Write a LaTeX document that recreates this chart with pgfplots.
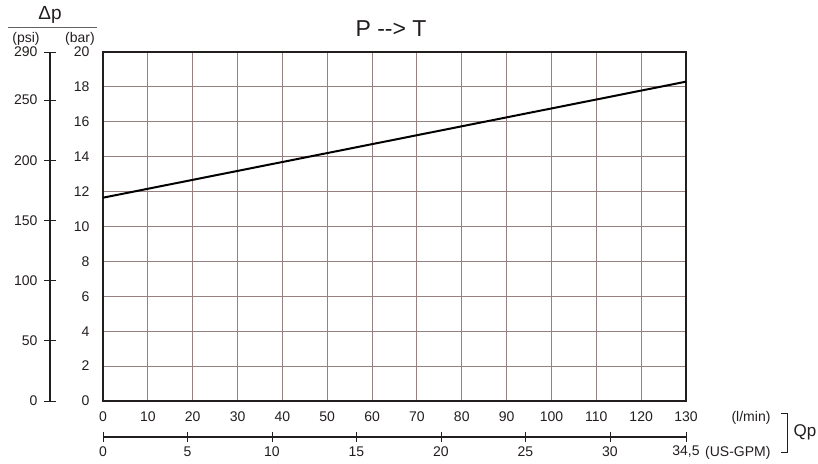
\documentclass[border=0pt]{standalone}
\usepackage{fontspec}
\setmainfont{Liberation Sans}
\usepackage{pgfplots}
\pgfplotsset{compat=1.18}
\definecolor{gridc}{RGB}{150,128,128}
\definecolor{axc}{RGB}{35,30,30}
\begin{document}
\begin{tikzpicture}
\path[use as bounding box] (-103pt,-62pt) rectangle (715pt,401pt);

% main chart, bar over l/min
\begin{axis}[
    at={(0pt,0pt)}, anchor=south west,
    scale only axis, width=583pt, height=349pt,
    xmin=0, xmax=130, ymin=0, ymax=20,
    xtick={0,10,...,130}, ytick={0,2,...,20},
    grid=major,
    major grid style={gridc, line width=1pt},
    axis line style={axc, line width=1.8pt},
    tick style={draw=none},
    tick label style={font=\fontsize{14}{16}\selectfont, text=axc},
    /pgf/number format/assume math mode=true,
    xticklabel style={anchor=center, yshift=-16pt},
    yticklabel style={anchor=east, xshift=-10pt},
]
\addplot[black, line width=2pt] coordinates {(0,11.65) (130,18.3)};
\end{axis}

% psi scale
\begin{axis}[
    at={(-53pt,0pt)}, anchor=south west,
    scale only axis, width=10pt, height=349pt,
    ymin=0, ymax=290, xmin=0, xmax=1,
    hide x axis, axis y line=left,
    axis line style={-, axc, line width=1.6pt},
    ytick={0,50,100,150,200,250,290},
    tick align=center, major tick length=12pt,
    tick style={axc, line width=0.8pt},
    tick label style={font=\fontsize{14}{16}\selectfont, text=axc},
    /pgf/number format/assume math mode=true,
    yticklabel style={anchor=east, xshift=-3pt},
]
\end{axis}

% US-GPM scale
\begin{axis}[
    at={(0pt,-36pt)}, anchor=south west,
    scale only axis, width=583pt, height=10pt,
    xmin=0, xmax=34.5, ymin=0, ymax=1,
    hide y axis, axis x line=bottom,
    axis line style={-, axc, line width=1.6pt},
    xtick={0,5,10,15,20,25,30,34.5},
    xticklabels={0,5,10,15,20,25,30,{34,5}},
    tick align=center, major tick length=10pt,
    tick style={axc, line width=0.8pt},
    tick label style={font=\fontsize{14}{16}\selectfont, text=axc},
    /pgf/number format/assume math mode=true,
    xticklabel style={anchor=center, yshift=-10pt},
]
\end{axis}

% labels
\node[font=\fontsize{23}{26}\selectfont, text=axc] at (288pt,372pt) {P -{}-{}> T};
\node[font=\fontsize{19}{22}\selectfont, text=axc] at (-53pt,386pt) {Δp};
\draw[axc!70, line width=1pt] (-95pt,373pt) -- (-6pt,373pt);
\node[font=\fontsize{14}{16}\selectfont, text=axc] at (-77pt,362pt) {(psi)};
\node[font=\fontsize{14}{16}\selectfont, text=axc] at (-23pt,362pt) {(bar)};
\node[font=\fontsize{14}{16}\selectfont, text=axc] at (648pt,-17pt) {(l/min)};
\node[font=\fontsize{14}{16}\selectfont, text=axc, anchor=west, inner sep=0pt] at (602pt,-52pt) {(US-GPM)};
\draw[axc, line width=1pt] (678pt,-12pt) -- (684pt,-12pt) -- (684pt,-51pt) -- (678pt,-51pt);
\node[font=\fontsize{17}{20}\selectfont, text=axc] at (702pt,-31pt) {Qp};
\end{tikzpicture}
\end{document}
